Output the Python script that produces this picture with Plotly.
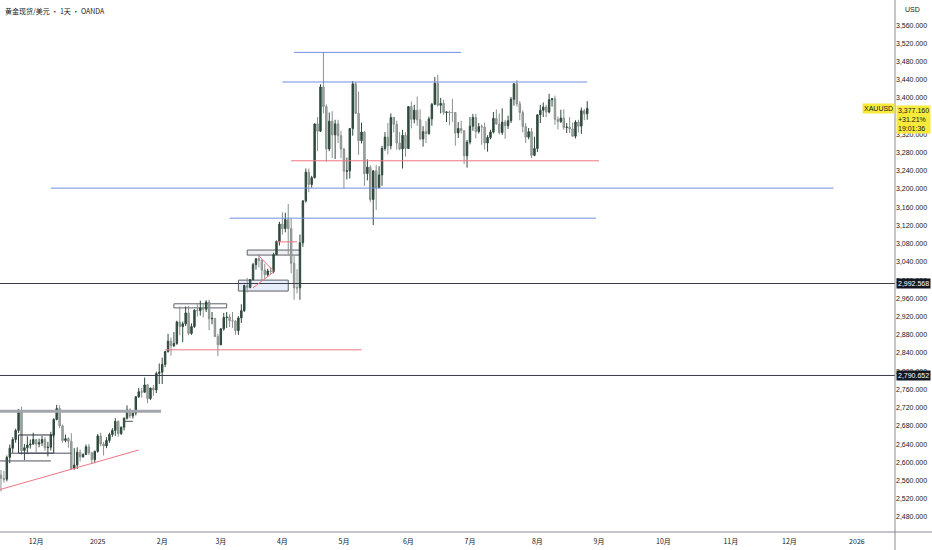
import pandas as pd
import plotly.graph_objects as go

# daily bars, XAUUSD (OANDA), 2024-11-14 .. 2025-08-26, weekends/holidays skipped
holidays = ["2024-12-25", "2025-01-01", "2025-04-18"]
dates = [d for d in pd.bdate_range("2024-11-14", "2025-08-26")
         if d.strftime("%Y-%m-%d") not in holidays]

opens = [
    # Nov
    2572, 2565, 2563, 2611, 2631, 2650, 2670, 2714, 2626, 2632, 2638, 2640,
    # Dec
    2650, 2640, 2643, 2650, 2632, 2633, 2660, 2694, 2718, 2680, 2648, 2652, 2646, 2586, 2594, 2622, 2612, 2617, 2634, 2621, 2606,
    # Jan
    2624, 2658, 2640, 2636, 2648, 2661, 2670, 2690, 2663, 2677, 2697, 2715, 2702, 2708, 2744, 2755, 2754, 2770, 2740, 2763, 2759, 2795,
    # Feb
    2798, 2815, 2843, 2866, 2856, 2861, 2908, 2898, 2904, 2928, 2883, 2898, 2934, 2933, 2939, 2936, 2952, 2915, 2916, 2876,
    # Mar
    2858, 2893, 2918, 2919, 2911, 2910, 2889, 2917, 2933, 2988, 2984, 3001, 3034, 3047, 3043, 3022, 3012, 3020, 3019, 3056, 3085,
    # Apr
    3123, 3113, 3133, 3113, 3037, 2983, 2983, 3082, 3174, 3237, 3210, 3225, 3343, 3327, 3424, 3381, 3288, 3349, 3319, 3343, 3317,
    # May
    3288, 3239, 3240, 3333, 3431, 3366, 3306, 3325, 3234, 3248, 3177, 3240, 3203, 3231, 3289, 3314, 3295, 3357, 3342, 3301, 3288, 3318,
    # Jun
    3289, 3381, 3353, 3373, 3352, 3310, 3326, 3322, 3354, 3386, 3432, 3384, 3388, 3368, 3369, 3368, 3368, 3323, 3333, 3328, 3273,
    # Jul
    3303, 3338, 3357, 3326, 3337, 3336, 3301, 3313, 3325, 3355, 3343, 3324, 3347, 3339, 3350, 3397, 3431, 3387, 3368, 3337, 3314, 3326, 3274,
    # Aug
    3289, 3363, 3373, 3380, 3369, 3396, 3398, 3353, 3348, 3356, 3335, 3336, 3332, 3316, 3347, 3338, 3372, 3365,
]
highs = [
    2583, 2581, 2615, 2639, 2655, 2674, 2716, 2722, 2640, 2657, 2650, 2665,
    2650, 2652, 2658, 2656, 2645, 2667, 2697, 2726, 2725, 2683, 2661, 2655, 2664, 2631, 2633, 2628, 2620, 2639, 2640, 2623, 2626,
    2662, 2665, 2645, 2655, 2665, 2675, 2697, 2692, 2679, 2698, 2725, 2719, 2711, 2745, 2763, 2763, 2786, 2772, 2764, 2770, 2799, 2817,
    2830, 2845, 2882, 2874, 2886, 2911, 2942, 2909, 2942, 2943, 2905, 2936, 2947, 2955, 2948, 2956, 2957, 2930, 2917, 2882,
    2895, 2928, 2930, 2925, 2930, 2912, 2921, 2947, 2990, 3005, 3002, 3038, 3047, 3057, 3047, 3036, 3025, 3029, 3060, 3087, 3128,
    3149, 3148, 3167, 3136, 3055, 3024, 3100, 3175, 3245, 3245, 3229, 3344, 3358, 3430, 3500, 3386, 3368, 3371, 3352, 3352, 3328,
    3290, 3269, 3334, 3437, 3435, 3414, 3346, 3327, 3265, 3252, 3241, 3253, 3250, 3295, 3325, 3345, 3366, 3358, 3350, 3325, 3330, 3325,
    3382, 3392, 3385, 3403, 3375, 3338, 3349, 3359, 3389, 3446, 3451, 3400, 3396, 3371, 3372, 3398, 3369, 3347, 3350, 3329, 3308,
    3358, 3365, 3365, 3345, 3342, 3346, 3318, 3330, 3369, 3375, 3366, 3377, 3352, 3361, 3402, 3433, 3439, 3393, 3373, 3345, 3334, 3334, 3315,
    3363, 3385, 3390, 3385, 3409, 3400, 3405, 3359, 3374, 3375, 3345, 3358, 3346, 3351, 3352, 3379, 3376, 3393,
]
lows = [
    2536, 2555, 2558, 2598, 2621, 2643, 2664, 2617, 2605, 2620, 2630, 2639,
    2622, 2633, 2636, 2625, 2613, 2626, 2655, 2692, 2675, 2643, 2644, 2632, 2583, 2584, 2585, 2602, 2610, 2616, 2616, 2596, 2598,
    2621, 2635, 2615, 2631, 2643, 2656, 2658, 2656, 2660, 2670, 2694, 2697, 2696, 2703, 2741, 2742, 2752, 2730, 2737, 2746, 2752, 2772,
    2772, 2809, 2841, 2834, 2853, 2858, 2879, 2864, 2899, 2879, 2880, 2895, 2920, 2922, 2918, 2930, 2890, 2903, 2875, 2833,
    2857, 2889, 2895, 2897, 2895, 2880, 2880, 2906, 2930, 2973, 2982, 3000, 3023, 3028, 2999, 3002, 3007, 3013, 3015, 3055, 3076,
    3100, 3105, 3054, 3015, 2957, 2971, 2957, 3073, 3170, 3193, 3203, 3223, 3283, 3325, 3366, 3260, 3283, 3268, 3266, 3301, 3268,
    3202, 3221, 3223, 3317, 3366, 3275, 3300, 3207, 3219, 3171, 3121, 3154, 3206, 3207, 3284, 3276, 3287, 3324, 3286, 3285, 3245, 3271,
    3289, 3333, 3344, 3339, 3307, 3293, 3301, 3319, 3339, 3384, 3381, 3366, 3363, 3347, 3340, 3347, 3295, 3312, 3322, 3255, 3247,
    3298, 3328, 3311, 3322, 3297, 3287, 3282, 3309, 3322, 3341, 3320, 3319, 3310, 3332, 3345, 3383, 3381, 3351, 3324, 3301, 3309, 3268, 3272,
    3281, 3345, 3358, 3358, 3366, 3381, 3341, 3331, 3345, 3330, 3323, 3323, 3315, 3311, 3324, 3321, 3351, 3352,
]
closes = [
    2565, 2562, 2611, 2631, 2650, 2670, 2715, 2626, 2632, 2638, 2640, 2650,
    2640, 2643, 2650, 2632, 2633, 2660, 2694, 2718, 2680, 2648, 2652, 2646, 2586, 2594, 2622, 2612, 2617, 2634, 2621, 2606, 2624,
    2658, 2640, 2636, 2648, 2661, 2670, 2690, 2663, 2677, 2697, 2715, 2702, 2708, 2744, 2755, 2754, 2770, 2740, 2763, 2759, 2795, 2798,
    2815, 2843, 2866, 2856, 2861, 2908, 2898, 2904, 2928, 2883, 2898, 2934, 2933, 2939, 2936, 2952, 2915, 2916, 2876, 2858,
    2893, 2918, 2919, 2911, 2910, 2889, 2917, 2933, 2988, 2984, 3001, 3034, 3047, 3043, 3022, 3012, 3020, 3019, 3056, 3085, 3123,
    3113, 3133, 3113, 3037, 2983, 2983, 3082, 3174, 3237, 3210, 3225, 3343, 3327, 3424, 3381, 3288, 3349, 3319, 3343, 3317, 3288,
    3239, 3240, 3333, 3431, 3366, 3306, 3325, 3234, 3248, 3177, 3240, 3203, 3231, 3289, 3314, 3295, 3357, 3342, 3301, 3288, 3318, 3289,
    3381, 3353, 3373, 3352, 3310, 3326, 3322, 3354, 3386, 3432, 3384, 3388, 3368, 3369, 3368, 3368, 3323, 3333, 3328, 3273, 3303,
    3338, 3357, 3326, 3337, 3336, 3301, 3313, 3325, 3355, 3343, 3324, 3347, 3339, 3350, 3397, 3431, 3387, 3368, 3337, 3314, 3326, 3274, 3289,
    3363, 3373, 3380, 3369, 3396, 3398, 3353, 3348, 3356, 3335, 3336, 3332, 3316, 3347, 3338, 3372, 3365, 3377,
]

month_ticks = ["2024-12-02", "2025-01-02", "2025-02-03", "2025-03-03", "2025-04-01", "2025-05-01",
               "2025-06-02", "2025-07-01", "2025-08-01", "2025-09-01", "2025-10-01", "2025-11-03",
               "2025-12-01", "2026-01-01"]
month_labels = ["12月", "2025", "2月", "3月", "4月", "5月", "6月", "7月", "8月", "9月",
                "10月", "11月", "12月", "2026"]
# 3,360 sits under the last-price box, so it is not listed
price_ticks = [2480, 2520, 2560, 2600, 2640, 2680, 2720, 2760, 2800, 2840, 2880, 2920, 2960,
               3000, 3040, 3080, 3120, 3160, 3200, 3240, 3280, 3320, 3400, 3440, 3480,
               3520, 3560]

# drawn levels: (start, end, price)
blue_levels = [("2025-04-07", "2025-06-26", 3500), ("2025-04-01", "2025-08-26", 3435),
               ("2024-12-09", "2025-12-22", 3202), ("2025-03-06", "2025-08-29", 3136)]
red_levels = [("2025-04-04", "2025-09-01", 3262), ("2025-02-04", "2025-05-09", 2847),
              ("2025-03-28", "2025-04-08", 3084)]
marked_prices = [2992.568, 2790.652]
last_price = 3377.16

BLUE = "#6f8fe0"
RED = "#f07584"

fig = go.Figure(go.Candlestick(
    x=dates, open=opens, high=highs, low=lows, close=closes,
    increasing=dict(line=dict(color="#2f4a3c", width=1), fillcolor="#2f4a3c"),
    decreasing=dict(line=dict(color="#89918d", width=1), fillcolor="#a7afab"),
    showlegend=False, hoverinfo="skip",
))

shapes = []


def seg(x0, x1, y0, y1, color, width=1, xref="x"):
    shapes.append(dict(type="line", xref=xref, yref="y", x0=x0, x1=x1, y0=y0, y1=y1,
                       line=dict(color=color, width=width), layer="above"))


def box(x0, x1, y0, y1, fill):
    shapes.append(dict(type="rect", xref="x", yref="y", x0=x0, x1=x1, y0=y0, y1=y1,
                       line=dict(color="#5d606b", width=1), fillcolor=fill, layer="below"))


for a, b, p in blue_levels:
    seg(a, b, p, p, BLUE)
for a, b, p in red_levels:
    seg(a, b, p, p, RED)
for p in marked_prices:
    seg(0, 1, p, p, "#3a3d45", 1, xref="paper")

# grey resistance and old range
seg(0, 0.18, 2712, 2712, "#a3a6ad", 3, xref="paper")
shapes.append(dict(type="rect", xref="x", yref="y", x0="2024-11-22", x1="2024-12-10",
                   y0=2620, y1=2660, line=dict(color="#2a2e39", width=1)))
seg("2024-11-19", "2024-12-18", 2620, 2620, "#50535e")
seg("2024-11-13", "2024-12-09", 2603, 2603, "#50535e")
seg("2025-01-15", "2025-01-20", 2690, 2690, "#50535e")
seg("2024-11-13", "2025-01-22", 2539, 2627, RED)

# boxes in the Feb-Apr range
box("2025-02-07", "2025-03-05", 2939, 2948, "rgba(255,255,255,0)")
box("2025-03-14", "2025-04-09", 3055, 3066, "rgba(225,228,234,0.6)")
box("2025-03-11", "2025-04-03", 2976, 3000, "rgba(214,224,246,0.6)")
seg("2025-03-18", "2025-03-27", 2983, 3018, RED)
seg("2025-03-20", "2025-03-27", 3053, 3020, RED)

# bottom axis line and price axis line
shapes.append(dict(type="line", xref="paper", yref="paper", x0=0, x1=1.05, y0=0, y1=0,
                   line=dict(color="#8a8d94", width=1)))
shapes.append(dict(type="line", xref="paper", yref="paper", x0=1, x1=1, y0=-0.04, y1=1,
                   line=dict(color="#8a8d94", width=1)))

annotations = [
    dict(xref="paper", yref="paper", x=0, y=1, xanchor="left", yanchor="top", xshift=3, yshift=-4,
         text="黄金现货/美元 • 1天 • OANDA", showarrow=False,
         font=dict(family="Noto Sans CJK SC", size=7, color="#131722")),
    dict(xref="paper", yref="paper", x=1, y=1, xanchor="left", yanchor="top", xshift=8, yshift=-4,
         text="USD", showarrow=False, font=dict(family="Liberation Sans", size=7, color="#131722")),
    dict(xref="paper", yref="y", x=1, y=last_price, xanchor="right", text="XAUUSD", showarrow=False,
         bgcolor="#f6ea3a", borderpad=1, font=dict(family="Liberation Sans", size=7, color="#131722")),
    dict(xref="paper", yref="y", x=1, y=last_price + 8, xanchor="left", yanchor="top", xshift=1,
         text=f"{last_price:,.3f}<br>+31.21%<br>19:01:36", align="left", showarrow=False,
         bgcolor="#f6ea3a", borderpad=1, font=dict(family="Liberation Sans", size=7, color="#131722")),
]
for p in marked_prices:
    annotations.append(dict(xref="paper", yref="y", x=1, y=p, xanchor="left", xshift=1,
                            text=f"{p:,.3f}", showarrow=False, bgcolor="#131722", borderpad=1,
                            font=dict(family="Liberation Sans", size=7, color="white")))

fig.update_layout(
    width=932, height=550,
    margin=dict(l=0, r=37, t=0, b=18),
    paper_bgcolor="white", plot_bgcolor="white",
    shapes=shapes, annotations=annotations,
    font=dict(family="Liberation Sans", size=7, color="#131722"),
)
fig.update_xaxes(
    range=["2024-11-13 16:00", "2026-01-20"],
    rangebreaks=[dict(bounds=["sat", "mon"]), dict(values=holidays)],
    rangeslider_visible=False,
    tickvals=month_ticks, ticktext=month_labels,
    showgrid=False, zeroline=False, ticks="", ticklabelstandoff=4,
    tickfont=dict(family="Noto Sans CJK SC", size=7, color="#131722"),
)
fig.update_yaxes(
    side="right", range=[2447, 3615],
    tickvals=price_ticks, tickformat=",.3f",
    showgrid=False, zeroline=False, ticks="",
    tickfont=dict(family="Liberation Sans", size=7, color="#131722"),
)

fig.write_html("out.html", config={"displayModeBar": False},
               post_script="document.body.style.margin='0';")
